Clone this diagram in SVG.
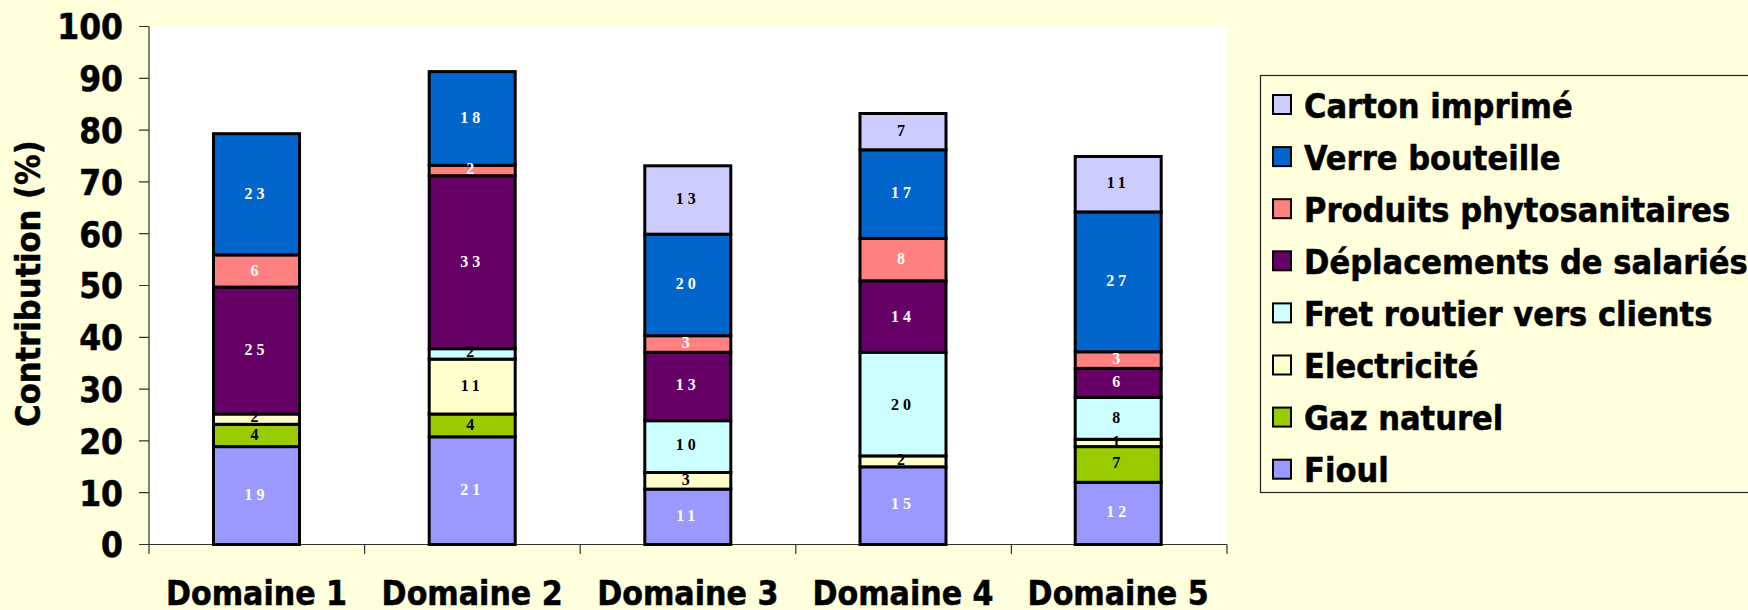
<svg xmlns="http://www.w3.org/2000/svg" width="1748" height="610" viewBox="0 0 1748 610">
<style>
.t{font-family:"DejaVu Sans Condensed","DejaVu Sans",sans-serif;font-weight:bold;fill:#000;stroke:#000;stroke-width:0.5}
.yt{font-size:35px;text-anchor:end}
.xl{font-size:33.5px;text-anchor:middle}
.lg{font-size:34px}
.v{font-family:"Liberation Serif","Times New Roman",serif;font-weight:bold;font-size:16px;letter-spacing:4px;text-anchor:middle}
.w{fill:#fff}.k{fill:#000}
.seg{stroke:#000;stroke-width:3}
.sw{stroke:#000;stroke-width:2}
.fioul{fill:#9999FF}.gaz{fill:#99CC00}.elec{fill:#FFFFCC}.fret{fill:#CCFFFF}
.depl{fill:#660066}.phyto{fill:#FF8080}.verre{fill:#0066CC}.carton{fill:#CCCCFF}
.ax{stroke:#333;stroke-width:1.2;fill:none}
</style>
<rect x="0" y="0" width="1748" height="610" fill="#FFFFDB"/>
<rect x="149" y="26.5" width="1078" height="518" fill="#FFFFFF"/>

<g id="axes">
<path class="ax" d="M149 26.5V544.5H1227"/>
<path class="ax" d="M139 26.5H149M139 78.3H149M139 130.1H149M139 181.9H149M139 233.7H149M139 285.5H149M139 337.3H149M139 389.1H149M139 440.9H149M139 492.7H149M139 544.5H149"/>
<path class="ax" d="M149 544.5V554M364.6 544.5V554M580.2 544.5V554M795.8 544.5V554M1011.4 544.5V554M1227 544.5V554"/>
<g class="t yt">
<text x="123" y="39">100</text>
<text x="123" y="91">90</text>
<text x="123" y="143">80</text>
<text x="123" y="194.5">70</text>
<text x="123" y="246.5">60</text>
<text x="123" y="298">50</text>
<text x="123" y="350">40</text>
<text x="123" y="402">30</text>
<text x="123" y="453.5">20</text>
<text x="123" y="505.5">10</text>
<text x="123" y="557">0</text>
</g>
<text class="t" font-size="34" text-anchor="middle" transform="translate(40 283.5) rotate(-90)">Contribution (%)</text>
<g class="t xl">
<text x="256.5" y="605">Domaine 1</text>
<text x="472.2" y="605">Domaine 2</text>
<text x="687.8" y="605">Domaine 3</text>
<text x="903" y="605">Domaine 4</text>
<text x="1118.2" y="605">Domaine 5</text>
</g>
</g>

<g id="connectors"></g>

<g id="bar-domaine-1">
<rect class="seg fioul" x="213.5" y="446.6" width="86" height="97.9"/>
<rect class="seg gaz" x="213.5" y="424.3" width="86" height="22.3"/>
<rect class="seg elec" x="213.5" y="414" width="86" height="10.3"/>
<rect class="seg depl" x="213.5" y="287.1" width="86" height="126.9"/>
<rect class="seg phyto" x="213.5" y="254.9" width="86" height="32.2"/>
<rect class="seg verre" x="213.5" y="133.7" width="86" height="121.2"/>
<text class="v w" x="256.5" y="500">19</text>
<text class="v k" x="256.5" y="440">4</text>
<text class="v k" x="256.5" y="422">2</text>
<text class="v w" x="256.5" y="354.5">25</text>
<text class="v w" x="256.5" y="275.5">6</text>
<text class="v w" x="256.5" y="198.5">23</text>
</g>

<g id="bar-domaine-2">
<rect class="seg fioul" x="429.2" y="436.8" width="86" height="107.7"/>
<rect class="seg gaz" x="429.2" y="414" width="86" height="22.8"/>
<rect class="seg elec" x="429.2" y="359.1" width="86" height="54.9"/>
<rect class="seg fret" x="429.2" y="348.7" width="86" height="10.4"/>
<rect class="seg depl" x="429.2" y="175.7" width="86" height="173"/>
<rect class="seg phyto" x="429.2" y="165.3" width="86" height="10.4"/>
<rect class="seg verre" x="429.2" y="71.6" width="86" height="93.7"/>
<text class="v w" x="472.2" y="495">21</text>
<text class="v k" x="472.2" y="430">4</text>
<text class="v k" x="472.2" y="391">11</text>
<text class="v k" x="472.2" y="357">2</text>
<text class="v w" x="472.2" y="266.5">33</text>
<text class="v w" x="472.2" y="174">2</text>
<text class="v w" x="472.2" y="123">18</text>
</g>

<g id="bar-domaine-3">
<rect class="seg fioul" x="644.8" y="489.1" width="86" height="55.4"/>
<rect class="seg elec" x="644.8" y="472.5" width="86" height="16.6"/>
<rect class="seg fret" x="644.8" y="420.7" width="86" height="51.8"/>
<rect class="seg depl" x="644.8" y="352.3" width="86" height="68.4"/>
<rect class="seg phyto" x="644.8" y="335.7" width="86" height="16.6"/>
<rect class="seg verre" x="644.8" y="234.2" width="86" height="101.5"/>
<rect class="seg carton" x="644.8" y="165.8" width="86" height="68.4"/>
<text class="v w" x="687.8" y="520.7">11</text>
<text class="v k" x="687.8" y="485">3</text>
<text class="v k" x="687.8" y="449.5">10</text>
<text class="v w" x="687.8" y="390">13</text>
<text class="v w" x="687.8" y="348">3</text>
<text class="v w" x="687.8" y="289">20</text>
<text class="v k" x="687.8" y="204">13</text>
</g>

<g id="bar-domaine-4">
<rect class="seg fioul" x="860" y="466.8" width="86" height="77.7"/>
<rect class="seg elec" x="860" y="455.9" width="86" height="10.9"/>
<rect class="seg fret" x="860" y="352.3" width="86" height="103.6"/>
<rect class="seg depl" x="860" y="280.8" width="86" height="71.5"/>
<rect class="seg phyto" x="860" y="238.4" width="86" height="42.4"/>
<rect class="seg verre" x="860" y="149.8" width="86" height="88.6"/>
<rect class="seg carton" x="860" y="113.5" width="86" height="36.3"/>
<text class="v w" x="903" y="508.5">15</text>
<text class="v k" x="903" y="464.5">2</text>
<text class="v k" x="903" y="409.5">20</text>
<text class="v w" x="903" y="321.5">14</text>
<text class="v w" x="903" y="263.5">8</text>
<text class="v w" x="903" y="198">17</text>
<text class="v k" x="903" y="136">7</text>
</g>

<g id="bar-domaine-5">
<rect class="seg fioul" x="1075.2" y="482.3" width="86" height="62.2"/>
<rect class="seg gaz" x="1075.2" y="446.6" width="86" height="35.7"/>
<rect class="seg elec" x="1075.2" y="439.3" width="86" height="7.3"/>
<rect class="seg fret" x="1075.2" y="397.4" width="86" height="41.9"/>
<rect class="seg depl" x="1075.2" y="368.4" width="86" height="29"/>
<rect class="seg phyto" x="1075.2" y="351.8" width="86" height="16.6"/>
<rect class="seg verre" x="1075.2" y="211.9" width="86" height="139.9"/>
<rect class="seg carton" x="1075.2" y="156.5" width="86" height="55.4"/>
<text class="v w" x="1118.2" y="517.3">12</text>
<text class="v k" x="1118.2" y="468.3">7</text>
<text class="v k" x="1118.2" y="446.5">1</text>
<text class="v k" x="1118.2" y="423">8</text>
<text class="v w" x="1118.2" y="387.3">6</text>
<text class="v w" x="1118.2" y="364.3">3</text>
<text class="v w" x="1118.2" y="286">27</text>
<text class="v k" x="1118.2" y="187.7">11</text>
</g>

<g id="legend">
<rect x="1260.5" y="75.5" width="520" height="417" fill="none" stroke="#222" stroke-width="1.2"/>
<rect class="sw carton" x="1273" y="95" width="18" height="19"/>
<rect class="sw verre" x="1273" y="147.1" width="18" height="19"/>
<rect class="sw phyto" x="1273" y="199.2" width="18" height="19"/>
<rect class="sw depl" x="1273" y="251.3" width="18" height="19"/>
<rect class="sw fret" x="1273" y="303.4" width="18" height="19"/>
<rect class="sw elec" x="1273" y="355.5" width="18" height="19"/>
<rect class="sw gaz" x="1273" y="407.6" width="18" height="19"/>
<rect class="sw fioul" x="1273" y="459.7" width="18" height="19"/>
<g class="t lg">
<text x="1304" y="117.5">Carton imprimé</text>
<text x="1304" y="169.6">Verre bouteille</text>
<text x="1304" y="221.7">Produits phytosanitaires</text>
<text x="1304" y="273.8">Déplacements de salariés</text>
<text x="1304" y="325.9">Fret routier vers clients</text>
<text x="1304" y="378">Electricité</text>
<text x="1304" y="430.1">Gaz naturel</text>
<text x="1304" y="482.2">Fioul</text>
</g>
</g>
</svg>
